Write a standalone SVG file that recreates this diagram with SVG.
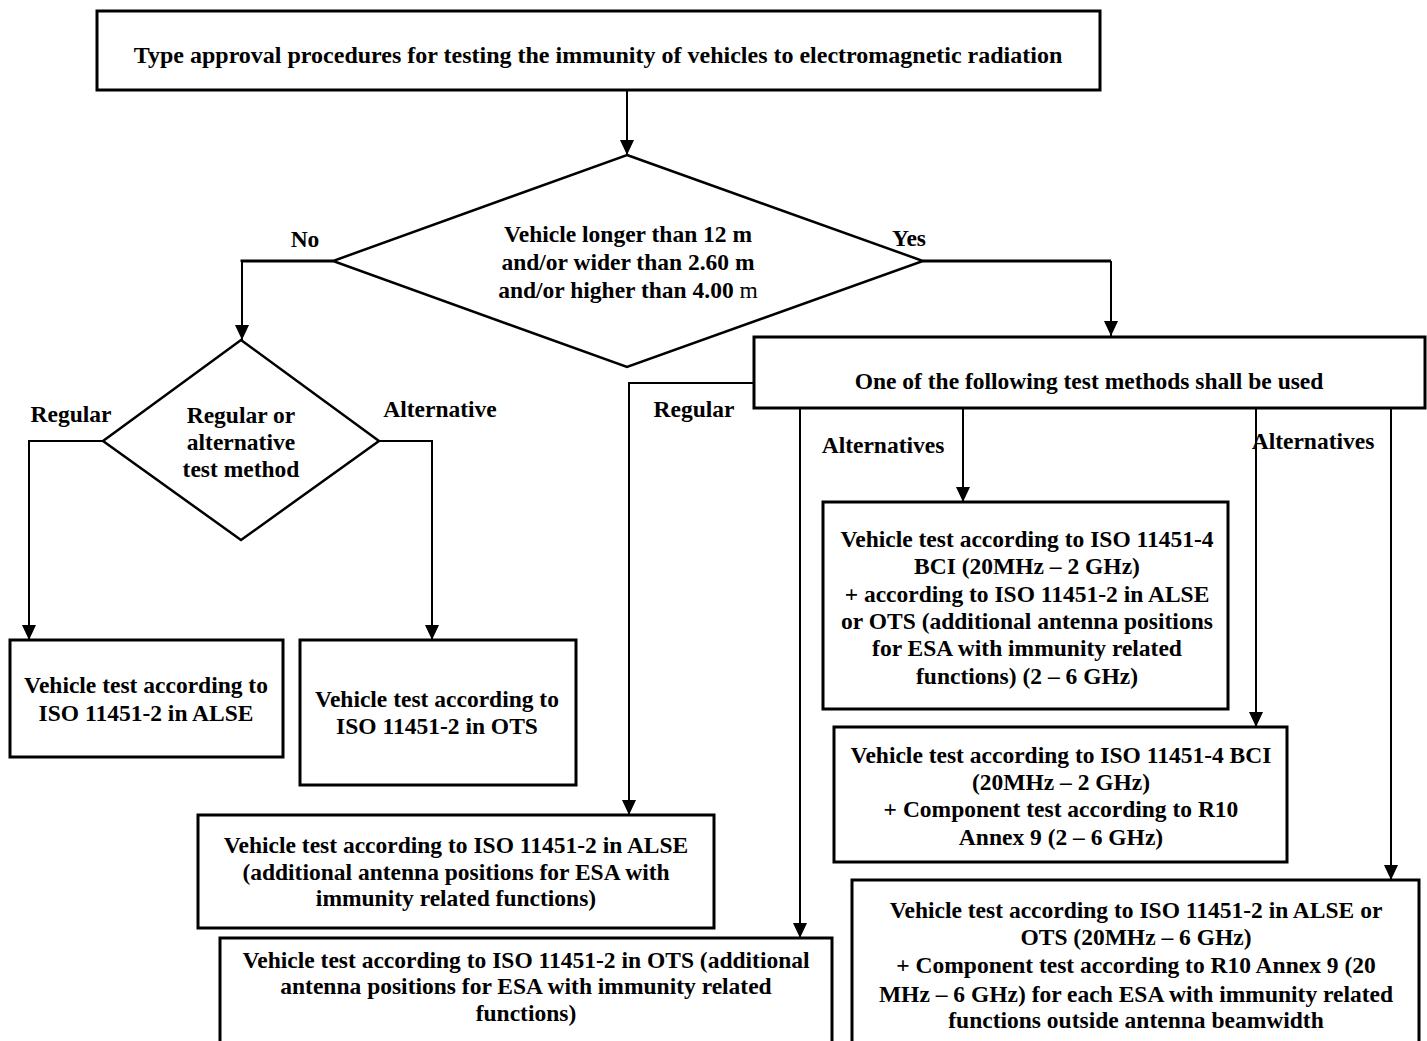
<svg xmlns="http://www.w3.org/2000/svg" width="1427" height="1041" viewBox="0 0 1427 1041">
<style>
.box{fill:#fff;stroke:#000;stroke-width:3}
.dia{fill:#fff;stroke:#000;stroke-width:2.5}
.con{fill:none;stroke:#000;stroke-width:2}
.conb{fill:none;stroke:#000;stroke-width:3}
text{font-family:"Liberation Serif","Times New Roman",serif;font-weight:bold;font-size:23.5px;text-anchor:middle;fill:#000}
.lbl{text-anchor:middle}
</style>
<defs>
<marker id="arr" markerUnits="userSpaceOnUse" markerWidth="16" markerHeight="14" refX="15" refY="7" orient="auto">
<path d="M0,0 L15,7 L0,14 z" fill="#000"/>
</marker>
</defs>
<rect width="1427" height="1041" fill="#fff"/>

<g id="connectors">
<line class="con" x1="627" y1="90" x2="627" y2="155" marker-end="url(#arr)"/>
<polyline class="conb" points="333,261 242,261 242,262"/>
<polyline class="con" points="242,261 242,340" marker-end="url(#arr)"/>
<polyline class="conb" points="923,261 1111,261"/>
<polyline class="con" points="1111,261 1111,336" marker-end="url(#arr)"/>
<polyline class="con" points="103,441 29,441 29,640" marker-end="url(#arr)"/>
<polyline class="con" points="379,441 432,441 432,640" marker-end="url(#arr)"/>
<polyline class="con" points="754,383 629,383 629,815" marker-end="url(#arr)"/>
<line class="con" x1="800" y1="408" x2="800" y2="938" marker-end="url(#arr)"/>
<line class="con" x1="963" y1="408" x2="963" y2="502" marker-end="url(#arr)"/>
<line class="con" x1="1256" y1="408" x2="1256" y2="727" marker-end="url(#arr)"/>
<line class="con" x1="1391" y1="408" x2="1391" y2="880" marker-end="url(#arr)"/>
<text x="305" y="247">No</text>
<text x="909" y="246">Yes</text>
<text x="71" y="422">Regular</text>
<text x="440" y="417">Alternative</text>
<text x="694" y="417">Regular</text>
<text x="883" y="453">Alternatives</text>
<text x="1313" y="449">Alternatives</text>
</g>

<g id="title">
<rect class="box" x="97" y="11" width="1003" height="79"/>
<text x="598" y="63" style="font-size:24px">Type approval procedures for testing the immunity of vehicles to electromagnetic radiation</text>
</g>

<g id="size-decision">
<polygon class="dia" points="627,155 923,261 627,367 333,261"/>
<text x="628" y="242">Vehicle longer than 12 m</text>
<text x="628" y="270">and/or wider than 2.60 m</text>
<text x="628" y="298">and/or higher than 4.00 <tspan style="font-weight:normal">m</tspan></text>
</g>

<g id="method-decision">
<polygon class="dia" points="241,340 379,441 241,540 103,441"/>
<text x="241" y="423">Regular or</text>
<text x="241" y="450">alternative</text>
<text x="241" y="477">test method</text>
</g>

<g id="small-alse">
<rect class="box" x="10" y="640" width="273" height="117"/>
<text x="146" y="693">Vehicle test according to</text>
<text x="146" y="721">ISO 11451-2 in ALSE</text>
</g>

<g id="small-ots">
<rect class="box" x="300" y="640" width="276" height="145"/>
<text x="437" y="707">Vehicle test according to</text>
<text x="437" y="734">ISO 11451-2 in OTS</text>
</g>

<g id="methods">
<rect class="box" x="754" y="337" width="671" height="71"/>
<text x="1089" y="389">One of the following test methods shall be used</text>
</g>

<g id="alt-bci-iso">
<rect class="box" x="823" y="502" width="405" height="207"/>
<text x="1027" y="547">Vehicle test according to ISO 11451-4</text>
<text x="1027" y="574">BCI (20MHz – 2 GHz)</text>
<text x="1027" y="602">+ according to ISO 11451-2 in ALSE</text>
<text x="1027" y="629">or OTS (additional antenna positions</text>
<text x="1027" y="656">for ESA with immunity related</text>
<text x="1027" y="684">functions) (2 – 6 GHz)</text>
</g>

<g id="alt-bci-r10">
<rect class="box" x="834" y="727" width="453" height="135"/>
<text x="1061" y="763">Vehicle test according to ISO 11451-4 BCI</text>
<text x="1061" y="790">(20MHz – 2 GHz)</text>
<text x="1061" y="817">+ Component test according to R10</text>
<text x="1061" y="845">Annex 9 (2 – 6 GHz)</text>
</g>

<g id="alt-iso-r10">
<rect class="box" x="852" y="880" width="567" height="180"/>
<text x="1136" y="918">Vehicle test according to ISO 11451-2 in ALSE or</text>
<text x="1136" y="945">OTS (20MHz – 6 GHz)</text>
<text x="1136" y="973">+ Component test according to R10 Annex 9 (20</text>
<text x="1136" y="1002">MHz – 6 GHz) for each ESA with immunity related</text>
<text x="1136" y="1028">functions outside antenna beamwidth</text>
</g>

<g id="regular-alse">
<rect class="box" x="198" y="815" width="516" height="113"/>
<text x="456" y="853">Vehicle test according to ISO 11451-2 in ALSE</text>
<text x="456" y="880">(additional antenna positions for ESA with</text>
<text x="456" y="906">immunity related functions)</text>
</g>

<g id="regular-ots">
<rect class="box" x="220" y="938" width="612" height="120"/>
<text x="526" y="968">Vehicle test according to ISO 11451-2 in OTS (additional</text>
<text x="526" y="994">antenna positions for ESA with immunity related</text>
<text x="526" y="1021">functions)</text>
</g>
</svg>
